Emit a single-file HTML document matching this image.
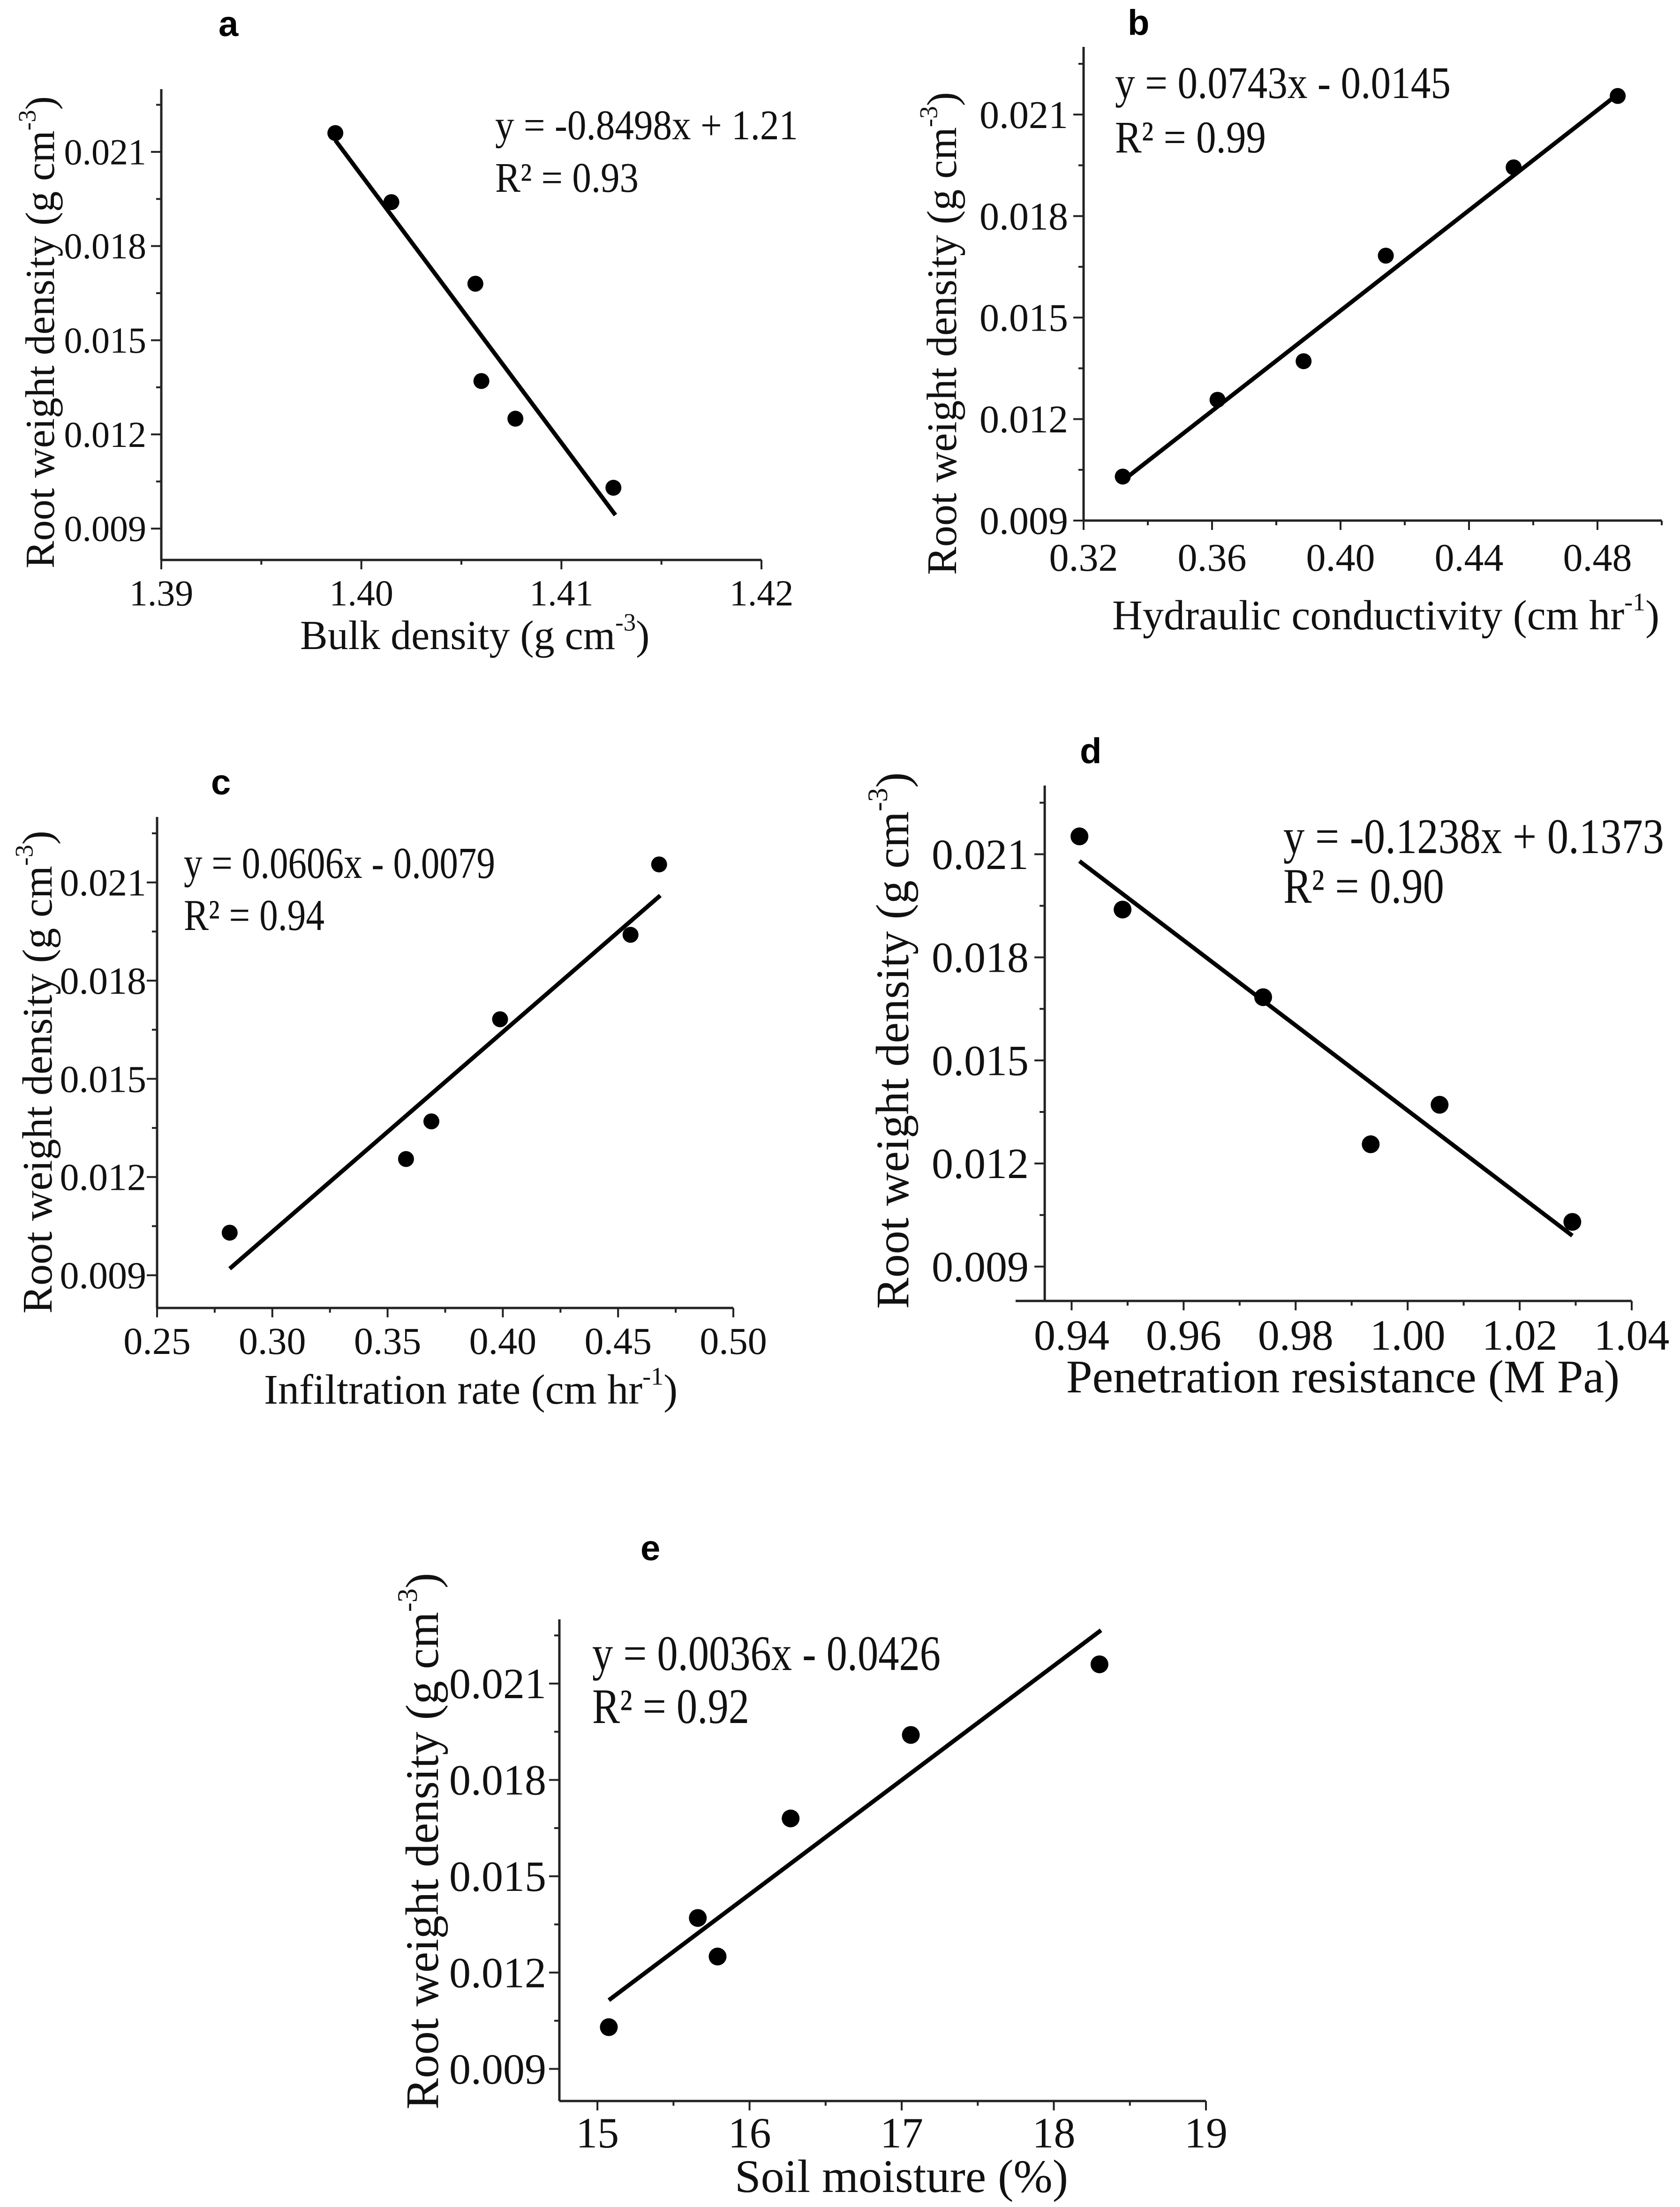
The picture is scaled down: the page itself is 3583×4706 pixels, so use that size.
<!DOCTYPE html>
<html><head><meta charset="utf-8"><style>
html,body{margin:0;padding:0;background:#fff;}
svg{display:block;}
.tk{font-family:"Liberation Serif",serif;fill:#111;}
.lt{font-family:"Liberation Sans",sans-serif;font-weight:bold;fill:#000;}
</style></head><body>
<svg id="fig" width="3583" height="4706" viewBox="0 0 3583 4706" xmlns="http://www.w3.org/2000/svg">
<rect width="3583" height="4706" fill="#fff"/>
</svg>
<script>
// ---- data ----
const aX = [1.3987, 1.4015, 1.4057, 1.4060, 1.4077, 1.4126];
const aY = [0.0216, 0.0194, 0.0168, 0.0137, 0.0125, 0.0103];
const aLineX = [1.3987, 1.4127];
const aLineY = [0.02137, 0.00943];
const bX = [0.3322, 0.3617, 0.3885, 0.4141, 0.4539, 0.4863];
const bY = [0.0103, 0.01257, 0.01371, 0.01683, 0.01944, 0.02155];
const bLineX = [0.3322, 0.4863];
const bLineY = [0.01018, 0.0216];
const cX = [0.2815, 0.358, 0.369, 0.3988, 0.4554, 0.4678];
const cY = [0.0103, 0.01255, 0.0137, 0.01682, 0.0194, 0.02155];
const cLineX = [0.2815, 0.4683];
const cLineY = [0.0092, 0.0206];
const dX = [0.9414, 0.9491, 0.9742, 0.9934, 1.0057, 1.0294];
const dY = [0.02152, 0.01939, 0.01684, 0.01256, 0.01371, 0.0103];
const dLineX = [0.9414, 1.0294];
const dLineY = [0.0208, 0.0099];
const eX = [15.075, 15.66, 15.79, 16.27, 17.06, 18.30];
const eY = [0.0103, 0.0137, 0.0125, 0.0168, 0.0194, 0.0216];
const eLineX = [15.075, 18.31];
const eLineY = [0.01114, 0.02266];
const yTicks = [0.009, 0.012, 0.015, 0.018, 0.021];
const yTickLabels = ["0.009", "0.012", "0.015", "0.018", "0.021"];
const aXTicks = [1.39, 1.40, 1.41, 1.42];
const bXTicks = [0.32, 0.36, 0.40, 0.44, 0.48];
const cXTicks = [0.25, 0.30, 0.35, 0.40, 0.45, 0.50];
const dXTicks = [0.94, 0.96, 0.98, 1.00, 1.02, 1.04];
const eXTicks = [15, 16, 17, 18, 19];
const aXTickLabels = ["1.39", "1.40", "1.41", "1.42"];
const bXTickLabels = ["0.32", "0.36", "0.40", "0.44", "0.48"];
const cXTickLabels = ["0.25", "0.30", "0.35", "0.40", "0.45", "0.50"];
const dXTickLabels = ["0.94", "0.96", "0.98", "1.00", "1.02", "1.04"];
const eXTickLabels = ["15", "16", "17", "18", "19"];

const NS = "http://www.w3.org/2000/svg";
const svg = document.getElementById('fig');
function mk(tag, attrs, parent, text) {
  const e = document.createElementNS(NS, tag);
  for (const k in attrs) e.setAttribute(k, attrs[k]);
  if (text !== undefined) e.textContent = text;
  (parent || svg).appendChild(e);
  return e;
}

const panels = [
 {id:'a', X:aX, Y:aY, LX:aLineX, LY:aLineY, xt:aXTicks, xtl:aXTickLabels, L:344,R:1624,T:190,B:1194, xmin:1.39,xmax:1.42,ymin:0.008,ymax:0.023, yAxisAt:1.39, fs:78, tfs:88,
  ylab:{bx:115, y0:1212, y1:192}, xlab:{x0:640, x1:1327, by:1384, text:'Bulk density (g cm', sup:'-3', close:')'},
  eq:['y = -0.8498x + 1.21', 1056, 297, 646], r2:['R² = 0.93', 1056, 409, 306], letter:[466, 77], tlb:1291, tyr:312, dot:17},
 {id:'b', X:bX, Y:bY, LX:bLineX, LY:bLineY, xt:bXTicks, xtl:bXTickLabels, L:2311,R:3544,T:100,B:1110, xmin:0.32,xmax:0.50,ymin:0.009,ymax:0.023, yAxisAt:0.32, fs:84, tfs:90,
  ylab:{bx:2039, y0:1226, y1:130}, xlab:{x0:2372, x1:3483, by:1342, text:'Hydraulic conductivity (cm hr', sup:'-1', close:')'},
  eq:['y = 0.0743x - 0.0145', 2378, 209, 716], r2:['R² = 0.99', 2378, 325, 322], letter:[2405, 74], tlb:1217, tyr:2278, dot:17},
 {id:'c', X:cX, Y:cY, LX:cLineX, LY:cLineY, xt:cXTicks, xtl:cXTickLabels, L:335,R:1564,T:1742,B:2789, xmin:0.25,xmax:0.50,ymin:0.008,ymax:0.023, yAxisAt:0.25, fs:82, tfs:90,
  ylab:{bx:110, y0:2801, y1:1757}, xlab:{x0:563, x1:1333, by:2993, text:'Infiltration rate (cm hr', sup:'-1', close:')'},
  eq:['y = 0.0606x - 0.0079', 392, 1872, 664], r2:['R² = 0.94', 392, 1983, 300], letter:[450, 1694], tlb:2887, tyr:312, dot:17},
 {id:'d', X:dX, Y:dY, LX:dLineX, LY:dLineY, xt:dXTicks, xtl:dXTickLabels, L:2166,R:3480,T:1675,B:2774, xmin:0.930,xmax:1.04,ymin:0.008,ymax:0.023, yAxisAt:0.9352, fs:92, tfs:100,
  ylab:{bx:1937, y0:2791, y1:1685}, xlab:{x0:2274, x1:3372, by:2969, text:'Penetration resistance (M Pa)', sup:'', close:''},
  eq:['y = -0.1238x + 0.1373', 2737, 1819, 812], r2:['R² = 0.90', 2737, 1925, 343], letter:[2303, 1627], tlb:2878, tyr:2194, dot:19},
 {id:'e', X:eX, Y:eY, LX:eLineX, LY:eLineY, xt:eXTicks, xtl:eXTickLabels, L:1193,R:2572,T:3453,B:4480, xmin:14.75,xmax:19,ymin:0.008,ymax:0.023, yAxisAt:14.75, fs:92, tfs:100,
  ylab:{bx:934, y0:4498, y1:3467}, xlab:{x0:1567, x1:2195, by:4674, text:'Soil moisture (%)', sup:'', close:''},
  eq:['y = 0.0036x - 0.0426', 1263, 3561, 743], r2:['R² = 0.92', 1263, 3674, 335], letter:[1366, 3327], tlb:4579, tyr:1165, dot:19}
];

panels.forEach(p => {
  const g = mk('g', {});
  
  
  const sx = v => p.L + (v - p.xmin) / (p.xmax - p.xmin) * (p.R - p.L);
  const sy = v => p.B - (v - p.ymin) / (p.ymax - p.ymin) * (p.B - p.T);
  const ax0 = sx(p.yAxisAt);
  // letter
  const lt = mk('text', {x:p.letter[0], y:p.letter[1], class:'lt', 'font-size':76}, g, p.id);
  
  
  // axes
  const ya = mk('line', {x1:ax0, y1:p.T, x2:ax0, y2:p.B, stroke:'#222', 'stroke-width':5}, g);
  
  
  const xa = mk('line', {x1:p.L, y1:p.B, x2:p.R, y2:p.B, stroke:'#222', 'stroke-width':5}, g);
  
  
  // y ticks
  yTicks.forEach((v, i) => {
    const y = sy(v);
    const t = mk('line', {x1:ax0 - 22, y1:y, x2:ax0, y2:y, stroke:'#222', 'stroke-width':4}, g);
    
    
    const m = sy(v + 0.0015);
    if (m >= p.T) {
      const mt = mk('line', {x1:ax0 - 11, y1:m, x2:ax0, y2:m, stroke:'#222', 'stroke-width':4}, g);
      
      
    }
    const tl = mk('text', {x:p.tyr, y:y + p.fs * 0.34, 'text-anchor':'end', class:'tk', 'font-size':p.fs}, g, yTickLabels[i]);
    
    
  });
  // x ticks
  const step = p.xt[1] - p.xt[0];
  p.xt.forEach((v, i) => {
    const x = sx(v);
    const t = mk('line', {x1:x, y1:p.B, x2:x, y2:p.B + 20, stroke:'#222', 'stroke-width':4}, g);
    
    
    const mv = v + step / 2;
    if (mv <= p.xmax + 1e-9) {
      const mt = mk('line', {x1:sx(mv), y1:p.B, x2:sx(mv), y2:p.B + 10, stroke:'#222', 'stroke-width':4}, g);
      
      
    }
    const tl = mk('text', {x:x, y:p.tlb, 'text-anchor':'middle', class:'tk', 'font-size':p.fs}, g, p.xtl[i]);
    
    
  });
  // y label
  const yl = mk('text', {x:0, y:0, class:'tk', 'font-size':p.tfs,
     transform:'translate(' + p.ylab.bx + ',' + p.ylab.y0 + ') rotate(-90)'}, g);
  
  
  mk('tspan', {}, yl, 'Root weight density (g cm');
  mk('tspan', {'font-size':p.tfs * 0.6, dy:-p.tfs * 0.45}, yl, '-3');
  mk('tspan', {dy:p.tfs * 0.45}, yl, ')');
  // x label
  const xl = mk('text', {x:p.xlab.x0, y:p.xlab.by, class:'tk', 'font-size':p.tfs}, g);
  
  
  mk('tspan', {}, xl, p.xlab.text);
  if (p.xlab.sup) {
    mk('tspan', {'font-size':p.tfs * 0.6, dy:-p.tfs * 0.45}, xl, p.xlab.sup);
    mk('tspan', {dy:p.tfs * 0.45}, xl, p.xlab.close);
  }
  // fit line
  const fl = mk('line', {x1:sx(p.LX[0]), y1:sy(p.LY[0]), x2:sx(p.LX[1]), y2:sy(p.LY[1]), stroke:'#000', 'stroke-width':9}, g);
  
  
  // points
  p.X.forEach((xv, i) => {
    const c = mk('circle', {cx:sx(xv), cy:sy(p.Y[i]), r:p.dot, fill:'#000'}, g);
    
    
  });
  // equation text
  const eq = mk('text', {x:p.eq[1], y:p.eq[2], class:'tk', 'font-size':p.fs * 1.15, textLength:p.eq[3], lengthAdjust:'spacingAndGlyphs'}, g, p.eq[0]);
  
  
  const r2 = mk('text', {x:p.r2[1], y:p.r2[2], class:'tk', 'font-size':p.fs * 1.15, textLength:p.r2[3], lengthAdjust:'spacingAndGlyphs'}, g, p.r2[0]);
  
  
});
</script>
</body></html>
